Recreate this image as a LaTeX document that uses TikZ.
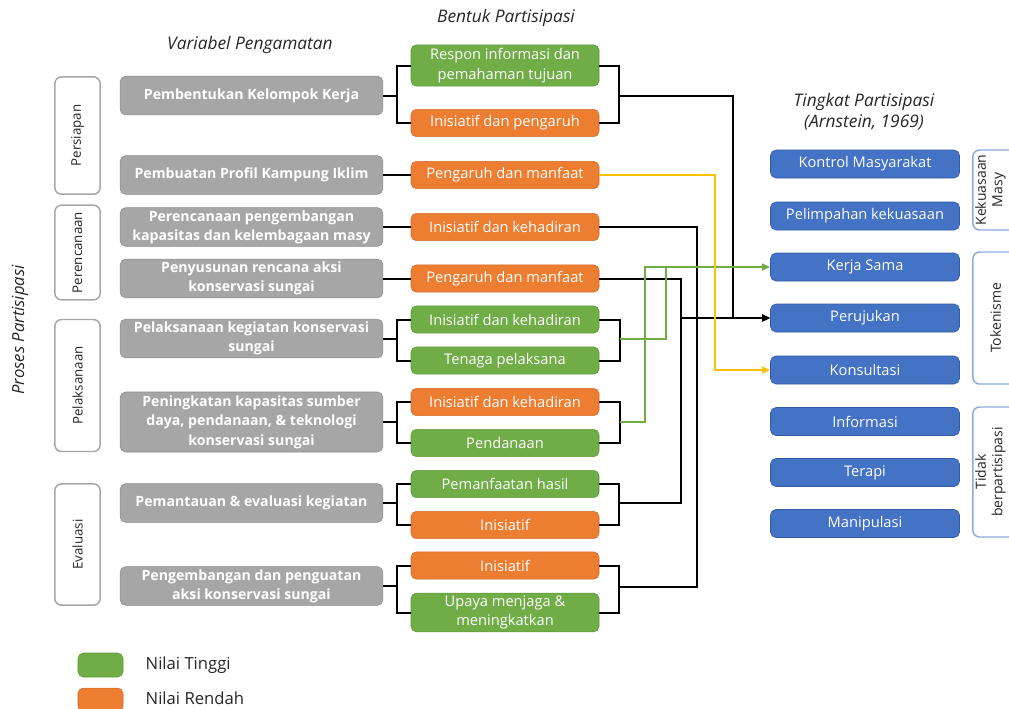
\documentclass[tikz,border=0pt]{standalone}
\usepackage{fontspec}
\setmainfont{Open Sans}
\usepackage{tikz}
\usetikzlibrary{arrows.meta,%
                shapes,positioning}

\definecolor{abufill}{RGB}{166,166,166}
\definecolor{abuline}{RGB}{140,140,140}
\definecolor{hijau}{RGB}{112,173,71}
\definecolor{hijauline}{RGB}{92,150,56}
\definecolor{oranye}{RGB}{237,125,49}
\definecolor{oranyeline}{RGB}{205,105,40}
\definecolor{biru}{RGB}{68,114,196}
\definecolor{biruline}{RGB}{50,90,165}
\definecolor{kuning}{RGB}{255,192,0}
\definecolor{birumuda}{RGB}{143,170,220}
\definecolor{teks}{RGB}{38,38,38}

\tikzset{
  fase/.style={draw=abufill, line width=1.1pt, fill=white, rounded corners=5pt,
    rotate=90, minimum height=34pt, inner sep=1pt, text=teks,
    font=\fontsize{10}{13}\selectfont, align=center},
  tingkatgrup/.style={fase, draw=birumuda, font=\fontsize{10.5}{12.5}\selectfont},
  gruplabel/.style={rotate=90, inner sep=0pt, text=teks, align=center,
    font=\fontsize{10.5}{12.5}\selectfont},
  var/.style={draw=abuline, fill=abufill, rounded corners=4pt, text=white,
    minimum width=197pt, minimum height=29pt, inner sep=1pt, align=center,
    font=\bfseries\fontsize{10.6}{14.5}\selectfont},
  bentuk/.style={rounded corners=4pt, text=white, minimum width=141pt,
    minimum height=20.5pt, inner sep=1pt, align=center,
    font=\fontsize{11}{14.5}\selectfont},
  tinggi/.style={bentuk, fill=hijau, draw=hijauline},
  rendah/.style={bentuk, fill=oranye, draw=oranyeline},
  level/.style={rounded corners=4pt, fill=biru, draw=biruline, text=white,
    minimum width=141.75pt, minimum height=21pt, inner sep=1pt,
    font=\fontsize{11}{13}\selectfont},
  judul/.style={text=teks, font=\itshape\fontsize{13}{16}\selectfont, align=center},
  wire/.style={line width=1.5pt, black},
  gwire/.style={line width=1.5pt, hijau},
  ywire/.style={line width=1.5pt, kuning},
  arr/.style={-{Triangle[length=6pt,width=5pt]}},
}

\begin{document}
\begin{tikzpicture}[x=0.75pt,y=-0.75pt]
\useasboundingbox (0,0) rectangle (1009,708);
\clip (0,0) rectangle (1009,708);

% judul
\node[judul] (jv) at (250,45) {Variabel Pengamatan};
\node[judul] (jb) at (506,18) {Bentuk Partisipasi};
\node[judul] (jt) at (864,112) {Tingkat Partisipasi\\(Arnstein, 1969)};
\node[judul, rotate=90, font=\itshape\fontsize{12.5}{15}\selectfont] (jp) at (20,330) {Proses Partisipasi};

% proses
\node[fase, minimum width=88pt] (p1) at (77.5,135.5) {Persiapan};
\node[fase, minimum width=71pt] (p2) at (77.5,252.5) {Perencanaan};
\node[fase, minimum width=99pt] (p3) at (77.5,385.5) {Pelaksanaan};
\node[fase, minimum width=91pt] (p4) at (77.5,544.5) {Evaluasi};

% variabel pengamatan
\node[var] (v1) at (251.5,95.5) {Pembentukan Kelompok Kerja};
\node[var] (v2) at (251.5,175) {Pembuatan Profil Kampung Iklim};
\node[var] (v3) at (251.5,227) {Perencanaan pengembangan\\kapasitas dan kelembagaan masy};
\node[var] (v4) at (251.5,278.5) {Penyusunan rencana aksi\\konservasi sungai};
\node[var] (v5) at (251.5,338.5) {Pelaksanaan kegiatan konservasi\\sungai};
\node[var, minimum height=45pt] (v6) at (251.5,422) {Peningkatan kapasitas sumber\\daya, pendanaan, \& teknologi\\konservasi sungai};
\node[var] (v7) at (251.5,503) {Pemantauan \& evaluasi kegiatan};
\node[var] (v8) at (251.5,586) {Pengembangan dan penguatan\\aksi konservasi sungai};

% bentuk partisipasi
\node[tinggi, minimum height=31pt] (b1) at (505,65.5) {Respon informasi dan\\pemahaman tujuan};
\node[rendah] (b2) at (505,123) {Inisiatif dan pengaruh};
\node[rendah] (b3) at (505,175) {Pengaruh dan manfaat};
\node[rendah] (b4) at (505,227) {Inisiatif dan kehadiran};
\node[rendah] (b5) at (505,278.5) {Pengaruh dan manfaat};
\node[tinggi] (b6) at (505,319.5) {Inisiatif dan kehadiran};
\node[tinggi] (b7) at (505,360.5) {Tenaga pelaksana};
\node[rendah] (b8) at (505,402) {Inisiatif dan kehadiran};
\node[tinggi] (b9) at (505,443) {Pendanaan};
\node[tinggi] (b10) at (505,484) {Pemanfaatan hasil};
\node[rendah] (b11) at (505,525) {Inisiatif};
\node[rendah] (b12) at (505,565.5) {Inisiatif};
\node[tinggi, minimum height=29pt] (b13) at (505,612.5) {Upaya menjaga \&\\meningkatkan};

% tingkat partisipasi
\node[level] (t1) at (865,164) {Kontrol Masyarakat};
\node[level] (t2) at (865,216) {Pelimpahan kekuasaan};
\node[level] (t3) at (865,267) {Kerja Sama};
\node[level] (t4) at (865,318) {Perujukan};
\node[level] (t5) at (865,370) {Konsultasi};
\node[level] (t6) at (865,421.5) {Informasi};
\node[level] (t7) at (865,472.5) {Terapi};
\node[level] (t8) at (865,523.5) {Manipulasi};

\node[tingkatgrup, minimum width=60pt] (g1) at (995.5,190) {};
\node[tingkatgrup, minimum width=99pt] (g2) at (995.5,318) {Tokenisme};
\node[tingkatgrup, minimum width=97.5pt] (g3) at (995.5,472) {};
\node[gruplabel] (g1t) at (990.5,190) {Kekuasaan\\Masy};
\node[gruplabel] (g3t) at (990.5,472) {Tidak\\berpartisipasi};

% legenda
\node[tinggi, minimum width=33.75pt, minimum height=18pt] (n1) at (100.5,665) {};
\node[rendah, minimum width=33.75pt, minimum height=18pt] (n2) at (100.5,700) {};
\node[anchor=west, text=teks, font=\fontsize{12.5}{14}\selectfont] (n1t) at (141,665) {Nilai Tinggi};
\node[anchor=west, text=teks, font=\fontsize{12.5}{14}\selectfont] (n2t) at (141,698) {Nilai Rendah};

% percabangan kiri
\coordinate (l1) at (397,95.5);
\coordinate (l5) at (397,338.5);
\coordinate (l6) at (397,422);
\coordinate (l7) at (397,503);
\coordinate (l8) at (397,586);
\draw[wire] (v1.east) -- (l1) (b1.west) -| (l1) |- (b2.west);
\draw[wire] (v2.east) -- (b3.west);
\draw[wire] (v3.east) -- (b4.west);
\draw[wire] (v4.east) -- (b5.west);
\draw[wire] (v5.east) -- (l5) (b6.west) -| (l5) |- (b7.west);
\draw[wire] (v6.east) -- (l6) (b8.west) -| (l6) |- (b9.west);
\draw[wire] (v7.east) -- (l7) (b10.west) -| (l7) |- (b11.west);
\draw[wire] (v8.east) -- (l8) (b12.west) -| (l8) |- (b13.west);

% percabangan kanan
\coordinate (r1) at (619,95.5);
\coordinate (r5) at (620,338.5);
\coordinate (r6) at (620,422);
\coordinate (r7) at (619,503);
\coordinate (r8) at (619,587);
\draw[wire] (b1.east) -| (r1) |- (b2.east);
\draw[wire] (b6.east) -| (r5) |- (b7.east);
\draw[wire] (b8.east) -| (r6) |- (b9.east);
\draw[wire] (b10.east) -| (r7) |- (b11.east);
\draw[wire] (b12.east) -| (r8) |- (b13.east);

% ke tingkat partisipasi
\coordinate (k1) at (733,95.5);
\coordinate (k2) at (715,175);
\coordinate (k3) at (697,227);
\coordinate (k4) at (681,278.5);
\coordinate (k5) at (666,267);
\coordinate (k6) at (645,267);
\draw[wire] (b4.east) -- (k3) |- (r8);
\draw[wire] (b5.east) -- (k4) |- (r7);
\draw[wire, arr] (k4 |- t4.west) -- (t4.west);
\draw[wire, arr] (r1) -- (k1) |- (t4.west);
\draw[gwire] (r5) -| (k5);
\draw[gwire, arr] (r6) -| (k6) -- (t3.west);
\draw[ywire, arr] (b3.east) -- (k2) |- (t5.west);

\end{tikzpicture}
\end{document}
